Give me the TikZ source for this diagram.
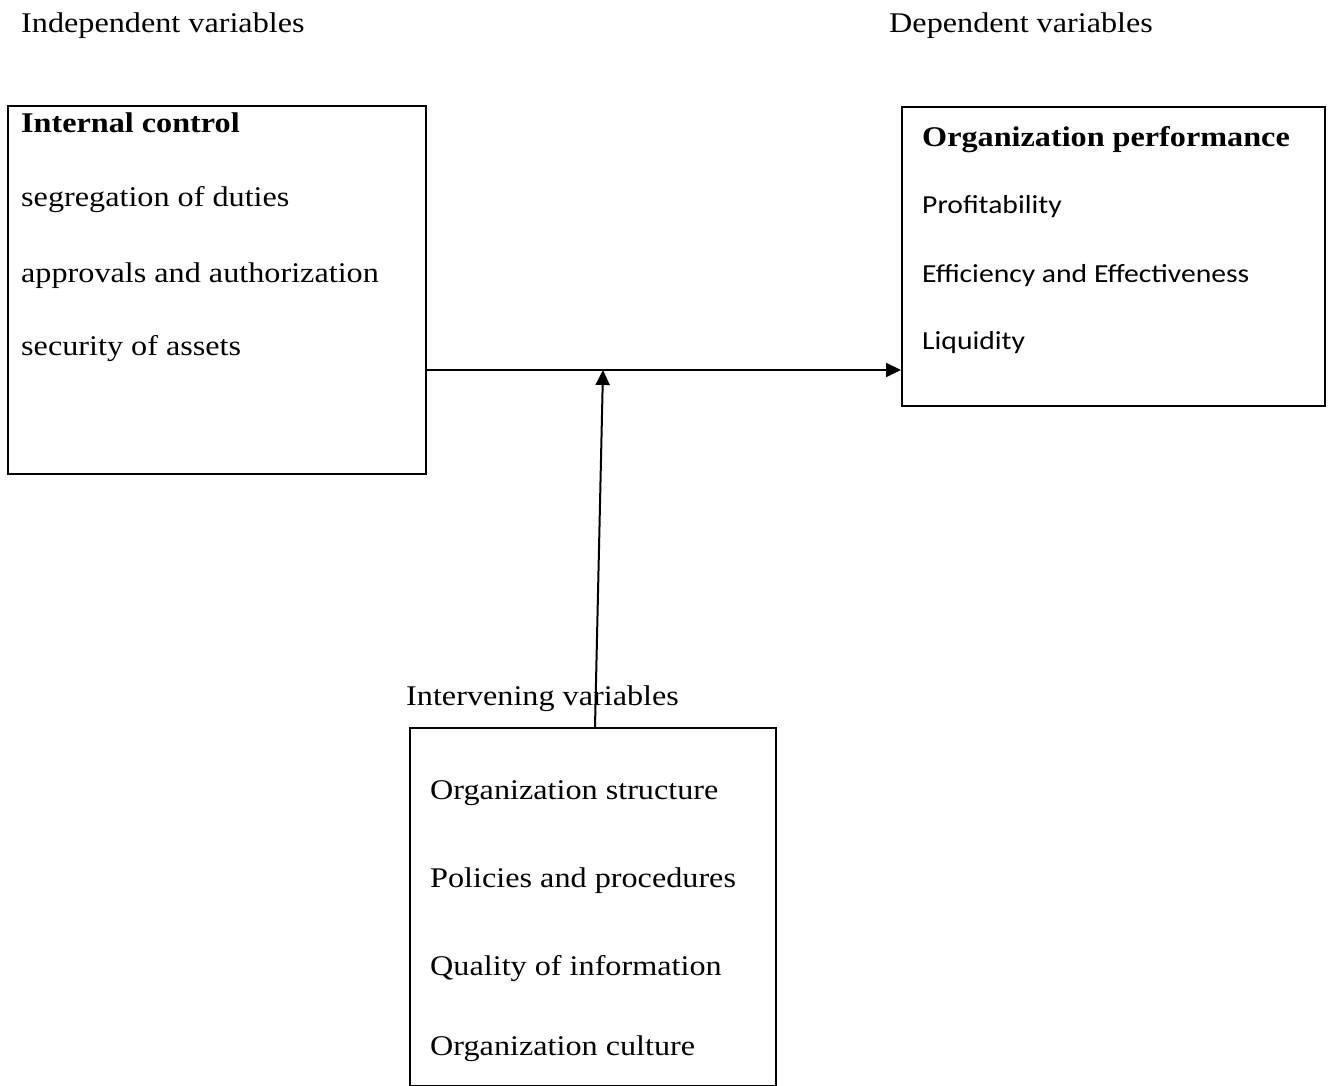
\documentclass[tikz,border=0pt]{standalone}
\usepackage{fontspec}
\setmainfont{Liberation Serif}[FakeStretch=1.13]
\newfontfamily\calib{Carlito}[FakeStretch=1.14]
\usetikzlibrary{arrows.meta}
\begin{document}
\begin{tikzpicture}[x=1pt,y=-1pt,
  box/.style={draw,line width=2pt,inner sep=0pt,anchor=north west},
  lbl/.style={anchor=base west,inner sep=0pt,font=\fontsize{28.5}{34}\selectfont},
  hlbl/.style={anchor=base west,inner sep=0pt,font=\bfseries\fontsize{28.5}{34}\selectfont},
  slbl/.style={anchor=base west,inner sep=0pt,font=\calib\fontsize{26}{30}\selectfont},
  conn/.style={line width=2pt,-{Triangle[length=15pt,width=14pt]}}]
\useasboundingbox (0,0) rectangle (1330,1086);
\node[box,minimum width=418pt,minimum height=368pt] (ic) at (7,105) {};
\node[box,minimum width=423pt,minimum height=299pt] (op) at (901,106) {};
\node[box,minimum width=366pt,minimum height=358pt] (iv) at (409,727) {};
\node[lbl] (t1) at (21,33) {Independent variables};
\node[lbl] (t2) at (889,33) {Dependent variables};
\node[lbl] (t3) at (406,705) {Intervening variables};
\node[hlbl] (a0) at (21,133) {Internal control};
\node[lbl] (a1) at (21,207) {segregation of duties};
\node[lbl] (a2) at (21,282) {approvals and authorization};
\node[lbl] (a3) at (21,355) {security of assets};
\node[hlbl] (b0) at (922,147) {Organization performance};
\node[slbl] (b1) at (922,214) {Profitability};
\node[slbl] (b2) at (922,282) {Efficiency and Effectiveness};
\node[slbl] (b3) at (922,349) {Liquidity};
\node[lbl] (c1) at (430,799) {Organization structure};
\node[lbl] (c2) at (430,887) {Policies and procedures};
\node[lbl] (c3) at (430,975) {Quality of information};
\node[lbl] (c4) at (430,1055) {Organization culture};
\coordinate (hs) at (425,370);
\coordinate (he) at (901,370);
\coordinate (j) at (603,370);
\coordinate (vs) at (595,727);
\draw[conn] (hs) -- (he);
\draw[conn] (vs) -- (j);
\end{tikzpicture}
\end{document}
